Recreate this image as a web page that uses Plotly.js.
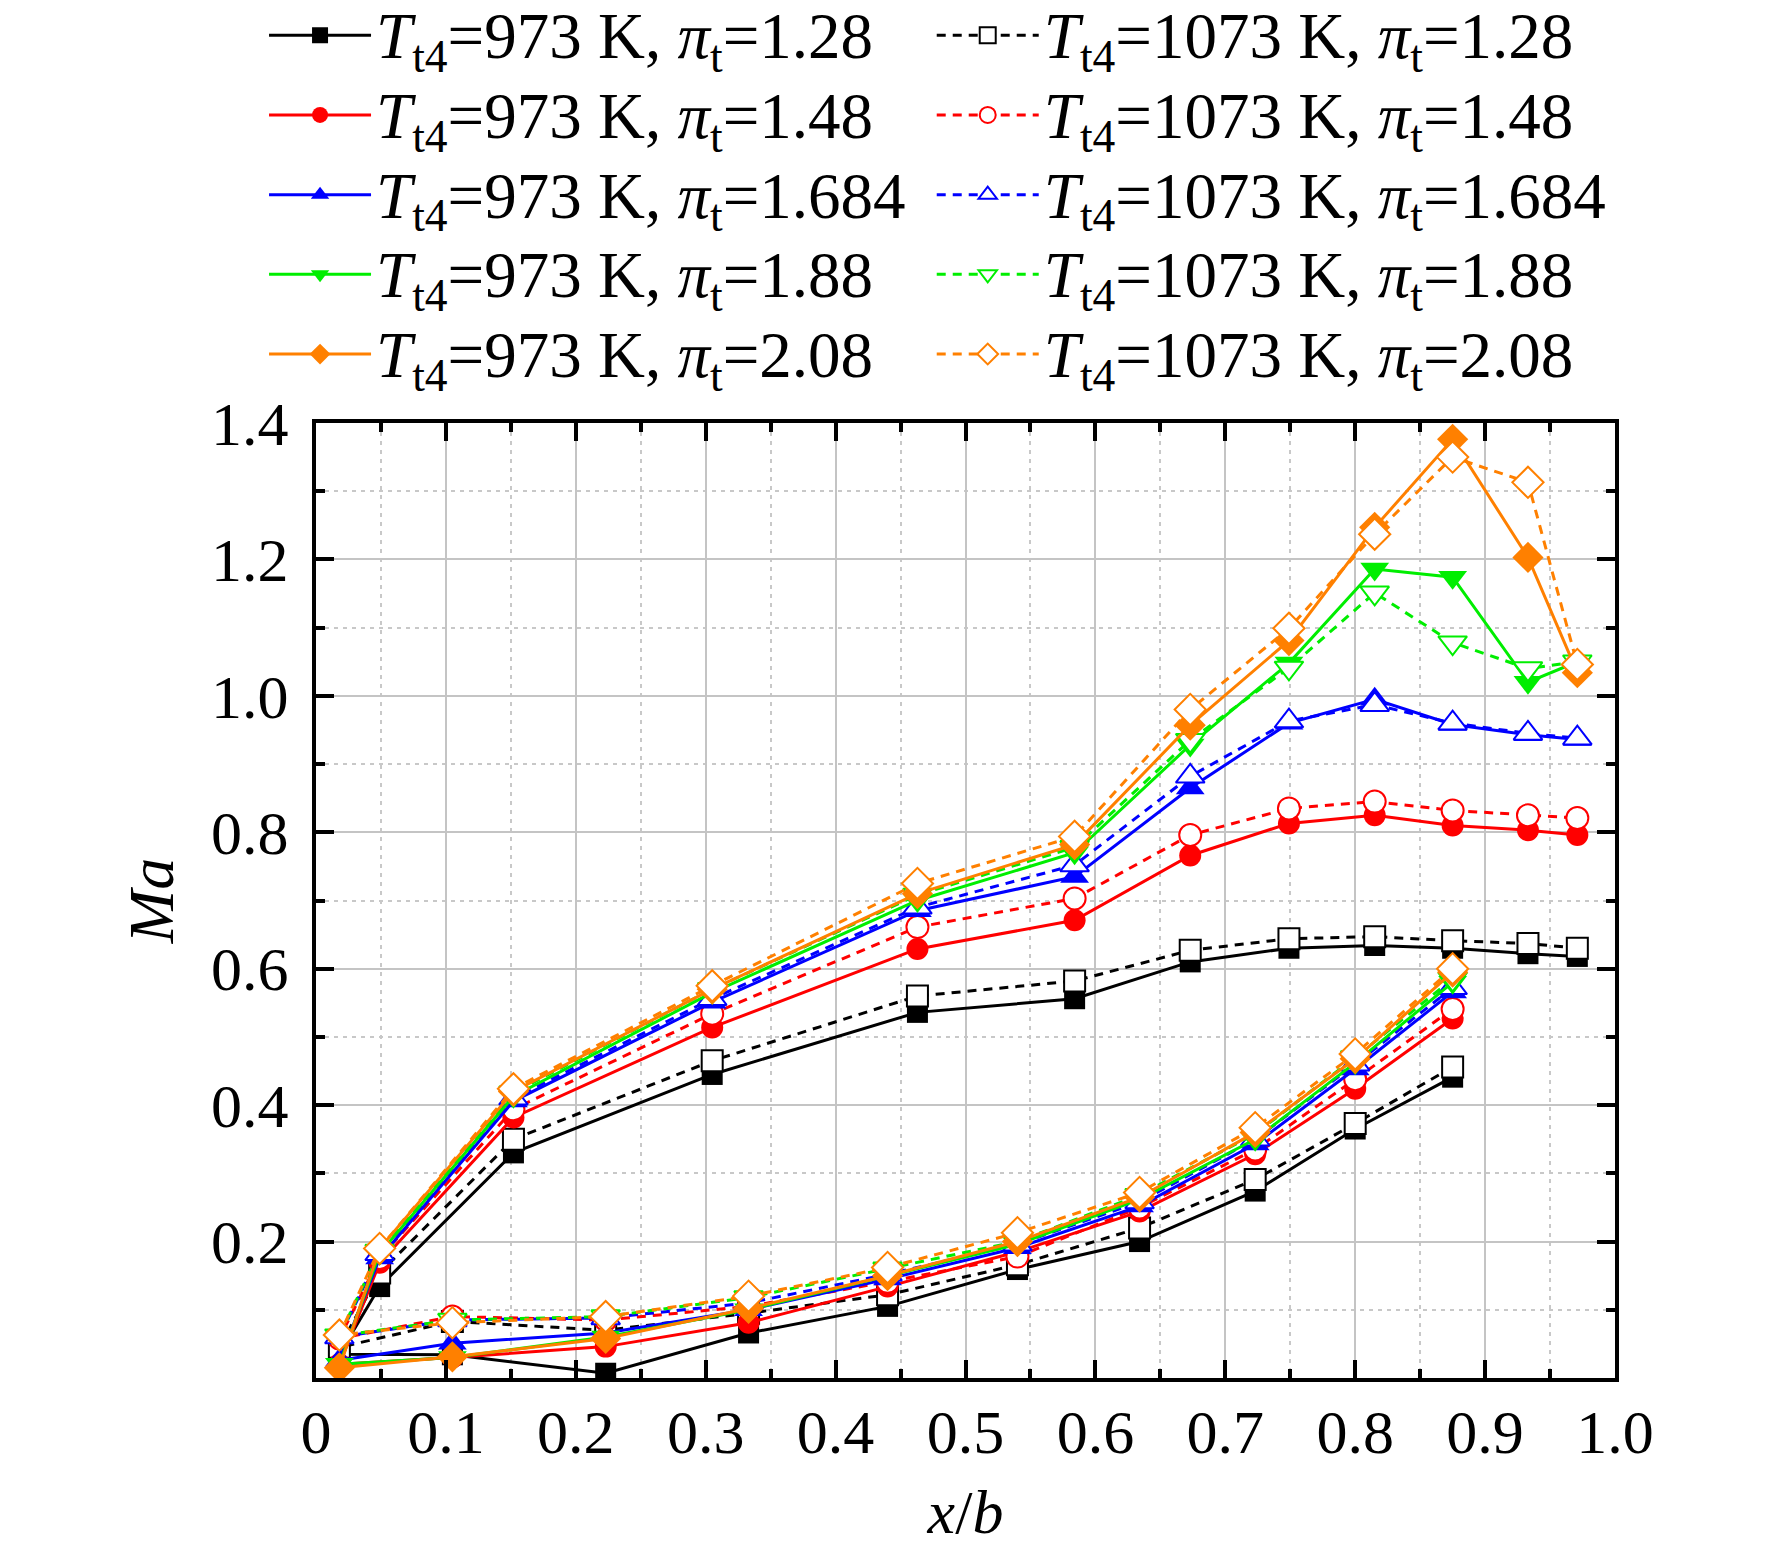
<!DOCTYPE html>
<html>
<head>
<meta charset="utf-8">
<script src="https://cdn.plot.ly/plotly-3.0.1.min.js"></script>
<style>
  body { margin: 0; background: #fff; }
  #chart { width: 1772px; height: 1555px; }
</style>
</head>
<body>
<div id="chart"></div>
<script>
// x/b positions: pressure side from trailing edge to leading edge, then suction side
let xb = [0.875, 0.80, 0.723, 0.634, 0.54, 0.44, 0.333, 0.223, 0.105,
          0.018,
          0.049, 0.152, 0.305, 0.463, 0.584, 0.673, 0.749, 0.815, 0.875, 0.933, 0.971];

// Ma
let ma_973_128 = [0.441, 0.365, 0.274, 0.200, 0.159, 0.105, 0.066, 0.007, 0.034, 0.035, 0.134, 0.330, 0.445, 0.536, 0.556, 0.610, 0.630, 0.634, 0.630, 0.622, 0.618];
let ma_1073_128 = [0.456, 0.373, 0.291, 0.220, 0.166, 0.122, 0.095, 0.070, 0.083, 0.045, 0.154, 0.350, 0.465, 0.560, 0.582, 0.627, 0.644, 0.647, 0.641, 0.637, 0.630];
let ma_973_148 = [0.527, 0.424, 0.328, 0.244, 0.185, 0.134, 0.081, 0.046, 0.030, 0.020, 0.169, 0.382, 0.514, 0.629, 0.671, 0.766, 0.813, 0.825, 0.810, 0.803, 0.796];
let ma_1073_148 = [0.541, 0.438, 0.335, 0.250, 0.178, 0.141, 0.105, 0.085, 0.090, 0.058, 0.176, 0.394, 0.534, 0.661, 0.703, 0.796, 0.835, 0.845, 0.832, 0.825, 0.821];
let ma_973_1684 = [0.566, 0.453, 0.343, 0.252, 0.191, 0.145, 0.100, 0.066, 0.051, 0.026, 0.176, 0.406, 0.551, 0.685, 0.735, 0.865, 0.960, 0.995, 0.958, 0.943, 0.936];
let ma_1073_1684 = [0.572, 0.460, 0.350, 0.258, 0.196, 0.152, 0.110, 0.088, 0.085, 0.060, 0.182, 0.410, 0.556, 0.690, 0.752, 0.882, 0.963, 0.987, 0.960, 0.945, 0.938];
let ma_973_188 = [0.580, 0.462, 0.350, 0.262, 0.196, 0.150, 0.100, 0.060, 0.030, 0.020, 0.183, 0.413, 0.565, 0.700, 0.770, 0.928, 1.048, 1.186, 1.174, 1.020, 1.050];
let ma_1073_188 = [0.585, 0.470, 0.358, 0.268, 0.200, 0.160, 0.118, 0.090, 0.085, 0.062, 0.186, 0.418, 0.570, 0.708, 0.778, 0.935, 1.041, 1.151, 1.078, 1.040, 1.050];
let ma_973_208 = [0.595, 0.468, 0.360, 0.265, 0.200, 0.150, 0.102, 0.058, 0.031, 0.015, 0.190, 0.420, 0.570, 0.710, 0.782, 0.957, 1.081, 1.247, 1.376, 1.203, 1.034];
let ma_1073_208 = [0.600, 0.475, 0.367, 0.272, 0.213, 0.162, 0.120, 0.090, 0.081, 0.063, 0.190, 0.424, 0.575, 0.725, 0.794, 0.980, 1.099, 1.237, 1.350, 1.313, 1.046];

let pi_t = ['1.28', '1.48', '1.684', '1.88', '2.08'];
let t_t4 = ['973', '1073'];

let xTickVals = [0, 0.1, 0.2, 0.3, 0.4, 0.5, 0.6, 0.7, 0.8, 0.9, 1.0];
let xTickText = ['0', '0.1', '0.2', '0.3', '0.4', '0.5', '0.6', '0.7', '0.8', '0.9', '1.0'];
let xMinorVals = [0.05, 0.15, 0.25, 0.35, 0.45, 0.55, 0.65, 0.75, 0.85, 0.95];
let yTickVals = [0.2, 0.4, 0.6, 0.8, 1.0, 1.2, 1.4];
let yTickText = ['0.2', '0.4', '0.6', '0.8', '1.0', '1.2', '1.4'];
let yMinorVals = [0.1, 0.3, 0.5, 0.7, 0.9, 1.1, 1.3];

let series973 = [ma_973_128, ma_973_148, ma_973_1684, ma_973_188, ma_973_208];
let series1073 = [ma_1073_128, ma_1073_148, ma_1073_1684, ma_1073_188, ma_1073_208];

let colors = ['#000000', '#ff0000', '#0000ff', '#00ee00', '#ff8000'];
let symbols = ['square', 'circle', 'triangle-up', 'triangle-down', 'diamond'];
let sizes = [21, 22, 25, 25, 24];

const serif = 'Liberation Serif, Times New Roman, serif';

// glyphs a bit bigger than the legend font so rows stay tight
function label(t, p) {
    return '<span style="font-size:65px"><i>T</i><sub>t4</sub>=' + t + ' K, <i>π</i><sub>t</sub>=' + p + '</span>';
}

let data = [];
for (let i = 0; i < pi_t.length; i++) {
    // solid line, filled marker
    data.push({
        type: 'scatter',
        mode: 'lines+markers',
        name: label(t_t4[0], pi_t[i]),
        legend: 'legend',
        x: xb,
        y: series973[i],
        line: { color: colors[i], width: 3 },
        marker: { symbol: symbols[i], size: sizes[i], color: colors[i], line: { width: 0 } }
    });
    // dashed line, open marker
    data.push({
        type: 'scatter',
        mode: 'lines+markers',
        name: label(t_t4[1], pi_t[i]),
        legend: 'legend2',
        x: xb,
        y: series1073[i],
        line: { color: colors[i], width: 3, dash: '9px,7px' },
        marker: { symbol: symbols[i], size: sizes[i], color: '#ffffff', line: { color: colors[i], width: 2 } }
    });
}

let axisCommon = {
    showline: true,
    linecolor: '#000',
    linewidth: 4,
    mirror: 'allticks',
    ticks: 'inside',
    ticklen: 18,
    tickwidth: 4,
    tickcolor: '#000',
    showgrid: true,
    gridcolor: '#c4c4c4',
    gridwidth: 2,
    zeroline: false,
    tickfont: { family: serif, size: 62, color: '#000' }
};

let minorCommon = {
    tickmode: 'array',
    ticks: 'inside', ticklen: 9, tickwidth: 4, tickcolor: '#000',
    showgrid: true, gridcolor: '#c8c8c8', gridwidth: 2, griddash: '4px,5px'
};

let legendCommon = {
    orientation: 'v',
    xanchor: 'left',
    y: 1.453,
    yanchor: 'top',
    itemwidth: 102,
    font: { family: serif, size: 59, color: '#000' },
    bgcolor: 'rgba(0,0,0,0)',
    traceorder: 'normal'
};

let layout = {
    width: 1772,
    height: 1555,
    paper_bgcolor: '#fff',
    plot_bgcolor: '#fff',
    margin: { l: 316, r: 157, t: 423, b: 177, autoexpand: false },
    showlegend: true,
    legend: Object.assign({ x: -0.04 }, legendCommon),
    legend2: Object.assign({ x: 0.474 }, legendCommon),
    xaxis: Object.assign({}, axisCommon, {
        range: [0, 1.0],
        tickmode: 'array',
        tickvals: xTickVals,
        ticktext: xTickText,
        ticklabelstandoff: -3,
        minor: Object.assign({ tickvals: xMinorVals }, minorCommon),
        title: { text: '<i>x</i>/<i>b</i>', font: { family: serif, size: 62, color: '#000' }, standoff: 25 }
    }),
    yaxis: Object.assign({}, axisCommon, {
        range: [0, 1.4],
        tickmode: 'array',
        tickvals: yTickVals,
        ticktext: yTickText,
        ticklabelstandoff: 11,
        minor: Object.assign({ tickvals: yMinorVals }, minorCommon),
        title: { text: '<i>Ma</i>', font: { family: serif, size: 64, color: '#000' }, standoff: 18 }
    })
};

Plotly.newPlot(document.getElementById('chart'), data, layout, { staticPlot: true });
</script>
</body>
</html>
